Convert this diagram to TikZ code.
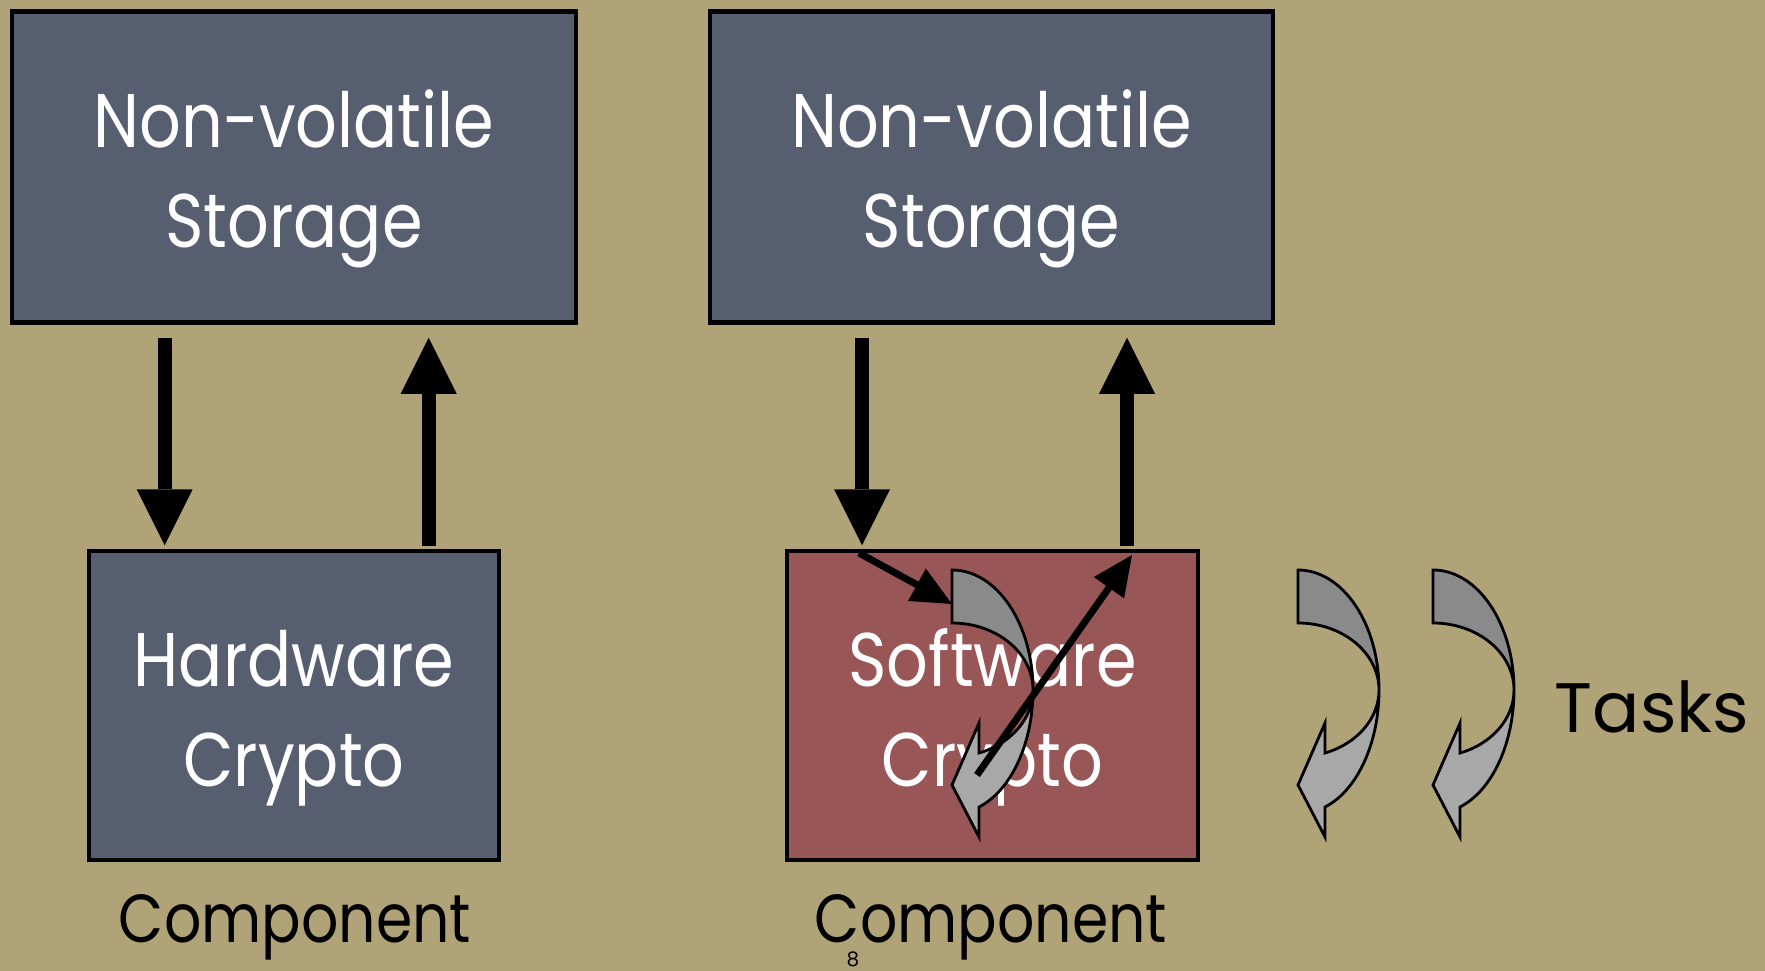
\documentclass[tikz,border=0pt]{standalone}
\usepackage{fontspec}
\setmainfont{Poppins}
\newfontfamily\narrowfont{Poppins}[FakeStretch=0.86]
\usetikzlibrary{arrows.meta}
\definecolor{bgtan}{RGB}{176,163,120}
\definecolor{boxblue}{RGB}{86,94,112}
\definecolor{boxred}{RGB}{153,86,86}
\definecolor{cadark}{RGB}{138,138,138}
\definecolor{calight}{RGB}{168,168,168}
\newcommand{\boxtext}[2]{\raisebox{-11pt}[\height][\depth]{\begin{tabular}{@{}c@{}}#1\\#2\end{tabular}}}
\tikzset{
  box/.style={draw=black, line width=4.5pt, rectangle, text=white, align=center,
    font=\narrowfont\fontsize{76}{100}\selectfont, inner sep=0pt},
  bigarrow/.style={line width=14pt, -{Triangle[length=56pt,width=56pt,line width=0pt]}},
  smallarrow/.style={line width=7pt, -{Triangle[length=40pt,width=37pt,line width=0pt]}},
  caption/.style={text=black, font=\narrowfont\fontsize{68}{70}\selectfont, inner sep=0pt},
  curvarrow/.pic={
    \filldraw[fill=cadark, draw=black, line width=2.8pt, line join=miter]
      (0,0) .. controls (44.7,0) and (81,53.7) .. (81,120)
      .. controls (81,83) and (44.7,53) .. (0,53) -- cycle;
    \filldraw[fill=calight, draw=black, line width=2.8pt, line join=miter]
      (81,120) .. controls (81,172) and (60,220) .. (27,237)
      -- (27,267) -- (0,215) -- (27,153) -- (27,183)
      .. controls (59.3,173.6) and (81,148.3) .. (81,120) -- cycle;
    \coordinate (-in) at (0,34);
    \coordinate (-out) at (25,205);
  }
}
\begin{document}
\begin{tikzpicture}[x=1pt,y=-1pt]
\fill[bgtan] (0,0) rectangle (1765,971);
\useasboundingbox (0,0) rectangle (1765,971);

\node[box, fill=boxblue, minimum width=564pt, minimum height=311pt] (nv1) at (294,167) {\boxtext{Non-volatile}{Storage}};
\node[box, fill=boxblue, minimum width=563pt, minimum height=311pt] (nv2) at (991.5,167) {\boxtext{Non-volatile}{Storage}};
\node[box, fill=boxblue, minimum width=410pt, minimum height=309pt] (hw) at (294,705.5) {\boxtext{Hardware}{Crypto}};
\node[box, fill=boxred, minimum width=411pt, minimum height=309pt] (sw) at (992.5,705.5) {\boxtext{Software}{Crypto}};

\coordinate (xa) at (164.7,0);
\coordinate (xb) at (428.7,0);
\coordinate (xc) at (862,0);
\coordinate (xd) at (1127,0);

\draw[bigarrow, shorten <=13pt, shorten >=3.5pt] (nv1.south -| xa) -- (hw.north -| xa);
\draw[bigarrow, shorten <=2.5pt, shorten >=13pt] (hw.north -| xb) -- (nv1.south -| xb);
\draw[bigarrow, shorten <=13pt, shorten >=3.5pt] (nv2.south -| xc) -- (sw.north -| xc);
\draw[bigarrow, shorten <=2.5pt, shorten >=13pt] (sw.north -| xd) -- (nv2.south -| xd);

\pic (ca) at (952,570) {curvarrow};
\pic (cb) at (1298,570) {curvarrow};
\pic (cc) at (1433,570) {curvarrow};

\coordinate (swin) at (859,553);
\coordinate (swout) at (1132,555);
\draw[smallarrow] (swin) -- (ca-in);
\draw[smallarrow] (ca-out) -- (swout);

\node[caption, anchor=base] (c1) at (295,942) {Component};
\node[caption, anchor=base] (c2) at (991,942) {Component};
\node[text=black, font=\fontsize{70}{70}\selectfont, inner sep=0pt, anchor=base] (tasks) at (1652,732) {Tasks};
\node[text=black, font=\fontsize{20}{20}\selectfont, inner sep=0pt] (pg) at (853,959) {8};
\end{tikzpicture}
\end{document}
